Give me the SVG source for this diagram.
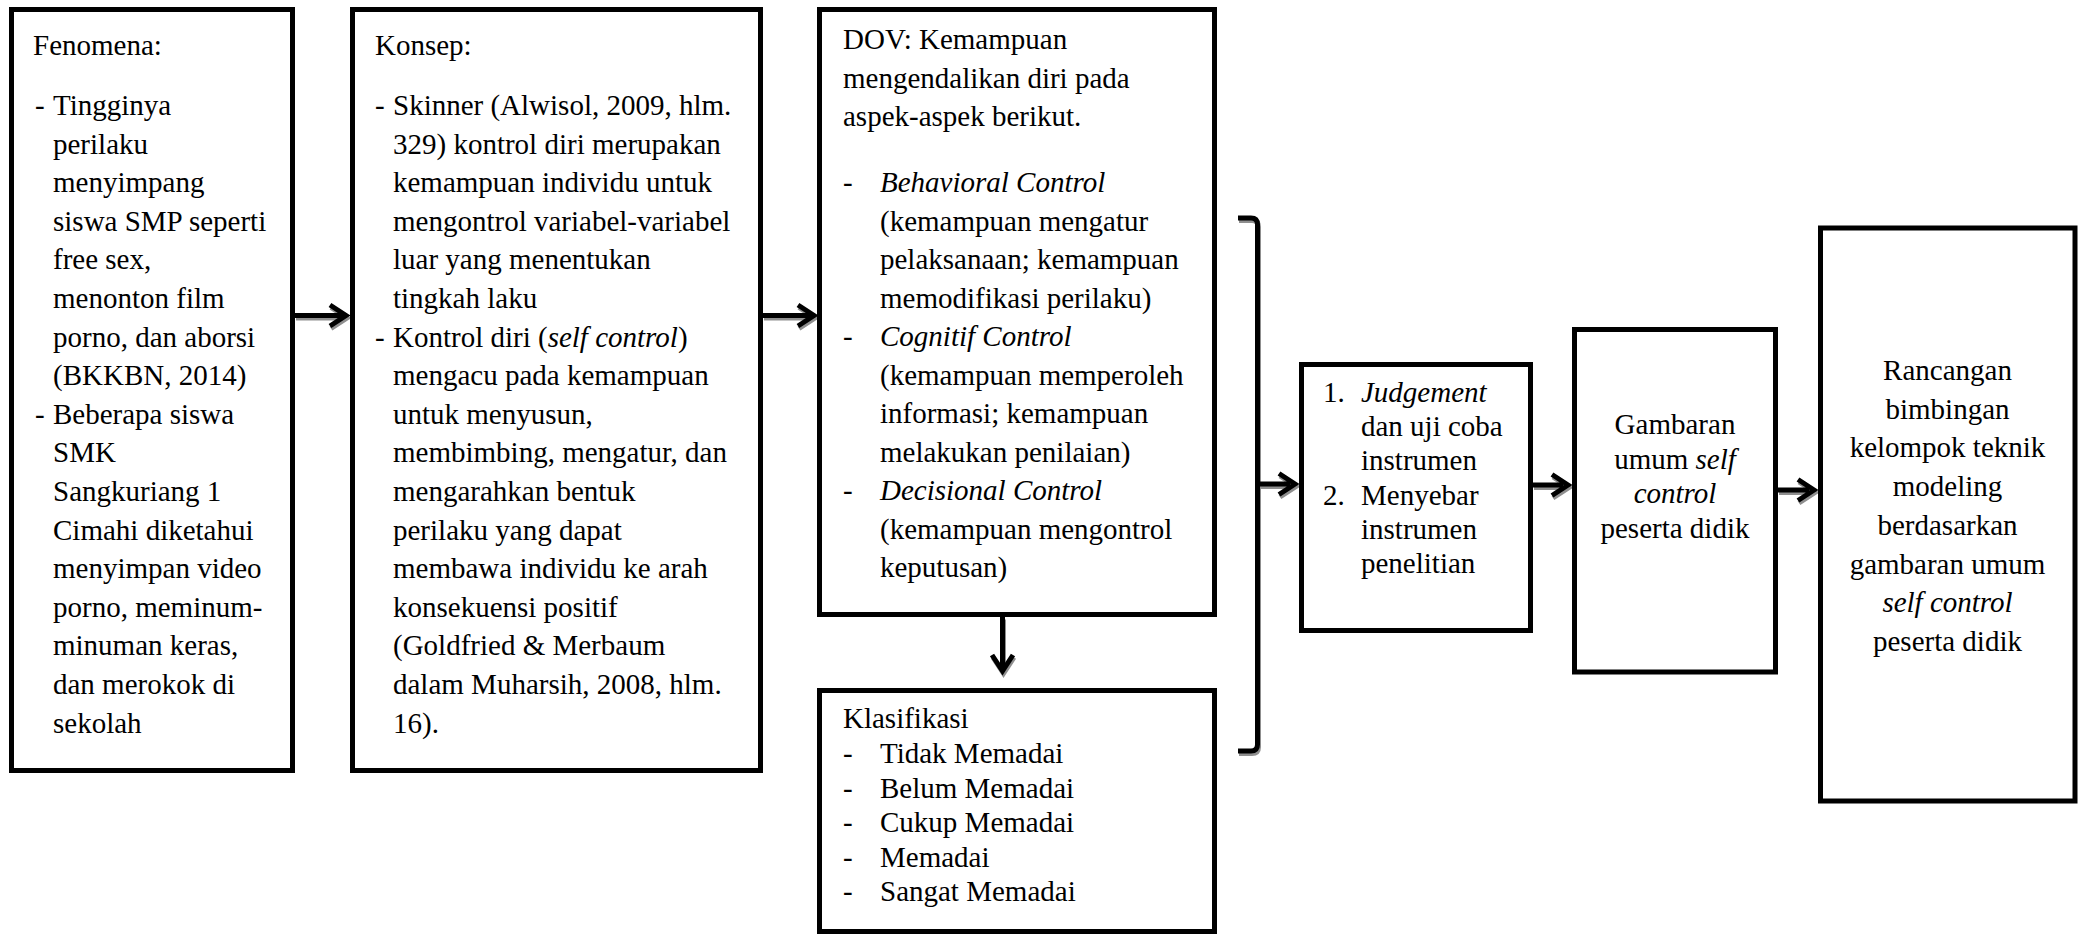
<svg xmlns="http://www.w3.org/2000/svg" width="2083" height="934" viewBox="0 0 2083 934">
<style>
  .box { fill: #fff; stroke: #000; stroke-width: 5; }
  text { font-family: "Liberation Serif", "Times New Roman", serif; font-size: 29px; fill: #000; }
  .c { text-anchor: middle; }
  .i { font-style: italic; }
  .conn { fill: none; stroke: #000; stroke-width: 5; stroke-linejoin: miter; }
  .shadow { fill: none; stroke: #8f8f8f; stroke-width: 5; stroke-linejoin: miter; }
</style>
<defs>
  <g id="arrows-shape">
    <path d="M295,315.5 H345 M330,305 L346,315.5 L330,326"/>
    <path d="M763,315.5 H813 M798,305 L814,315.5 L798,326"/>
    <path d="M1002.5,617 V670 M992,655 L1002.5,671 L1013,655"/>
    <path d="M1238,218 H1251 Q1257.5,218 1257.5,224.5 V744.5 Q1257.5,751 1251,751 H1238"/>
    <path d="M1258,484 H1290 M1279,473.5 L1295,484 L1279,494.5"/>
    <path d="M1533,485 H1563 M1552,474.5 L1568,485 L1552,495.5"/>
    <path d="M1778,490 H1809 M1798,479.5 L1814,490 L1798,500.5"/>
  </g>
</defs>

<g id="connectors">
  <use href="#arrows-shape" class="shadow" transform="translate(1,2.5)"/>
  <use href="#arrows-shape" class="conn"/>
</g>

<g id="fenomena">
  <rect class="box" x="11.5" y="9.5" width="281" height="761"/>
  <text x="33" y="55">Fenomena:</text>
  <text x="35" y="115">-</text>
  <text x="53" y="115">Tingginya</text>
  <text x="53" y="153.6">perilaku</text>
  <text x="53" y="192.2">menyimpang</text>
  <text x="53" y="230.8">siswa SMP seperti</text>
  <text x="53" y="269.4">free sex,</text>
  <text x="53" y="308">menonton film</text>
  <text x="53" y="346.6">porno, dan aborsi</text>
  <text x="53" y="385.2">(BKKBN, 2014)</text>
  <text x="35" y="423.8">-</text>
  <text x="53" y="423.8">Beberapa siswa</text>
  <text x="53" y="462.4">SMK</text>
  <text x="53" y="501">Sangkuriang 1</text>
  <text x="53" y="539.6">Cimahi diketahui</text>
  <text x="53" y="578.2">menyimpan video</text>
  <text x="53" y="616.8">porno, meminum-</text>
  <text x="53" y="655.4">minuman keras,</text>
  <text x="53" y="694">dan merokok di</text>
  <text x="53" y="732.6">sekolah</text>
</g>

<g id="konsep">
  <rect class="box" x="352.5" y="9.5" width="408" height="761"/>
  <text x="375" y="55">Konsep:</text>
  <text x="375" y="115">-</text>
  <text x="393" y="115">Skinner (Alwisol, 2009, hlm.</text>
  <text x="393" y="153.6">329) kontrol diri merupakan</text>
  <text x="393" y="192.2">kemampuan individu untuk</text>
  <text x="393" y="230.8">mengontrol variabel-variabel</text>
  <text x="393" y="269.4">luar yang menentukan</text>
  <text x="393" y="308">tingkah laku</text>
  <text x="375" y="346.6">-</text>
  <text x="393" y="346.6">Kontrol diri (<tspan class="i">self control</tspan>)</text>
  <text x="393" y="385.2">mengacu pada kemampuan</text>
  <text x="393" y="423.8">untuk menyusun,</text>
  <text x="393" y="462.4">membimbing, mengatur, dan</text>
  <text x="393" y="501">mengarahkan bentuk</text>
  <text x="393" y="539.6">perilaku yang dapat</text>
  <text x="393" y="578.2">membawa individu ke arah</text>
  <text x="393" y="616.8">konsekuensi positif</text>
  <text x="393" y="655.4">(Goldfried &amp; Merbaum</text>
  <text x="393" y="694">dalam Muharsih, 2008, hlm.</text>
  <text x="393" y="732.6">16).</text>
</g>

<g id="dov">
  <rect class="box" x="819.5" y="9.5" width="395" height="605"/>
  <text x="843" y="49">DOV: Kemampuan</text>
  <text x="843" y="87.5">mengendalikan diri pada</text>
  <text x="843" y="126">aspek-aspek berikut.</text>
  <text x="843" y="192">-</text>
  <text x="880" y="192" class="i">Behavioral Control</text>
  <text x="880" y="230.5">(kemampuan mengatur</text>
  <text x="880" y="269">pelaksanaan; kemampuan</text>
  <text x="880" y="307.5">memodifikasi perilaku)</text>
  <text x="843" y="346">-</text>
  <text x="880" y="346" class="i">Cognitif Control</text>
  <text x="880" y="384.5">(kemampuan memperoleh</text>
  <text x="880" y="423">informasi; kemampuan</text>
  <text x="880" y="461.5">melakukan penilaian)</text>
  <text x="843" y="500">-</text>
  <text x="880" y="500" class="i">Decisional Control</text>
  <text x="880" y="538.5">(kemampuan mengontrol</text>
  <text x="880" y="577">keputusan)</text>
</g>

<g id="klasifikasi">
  <rect class="box" x="819.5" y="690.5" width="395" height="241"/>
  <text x="843" y="728">Klasifikasi</text>
  <text x="843" y="763">-</text>
  <text x="880" y="763">Tidak Memadai</text>
  <text x="843" y="797.5">-</text>
  <text x="880" y="797.5">Belum Memadai</text>
  <text x="843" y="832">-</text>
  <text x="880" y="832">Cukup Memadai</text>
  <text x="843" y="866.5">-</text>
  <text x="880" y="866.5">Memadai</text>
  <text x="843" y="901">-</text>
  <text x="880" y="901">Sangat Memadai</text>
</g>

<g id="instrumen">
  <rect class="box" x="1301.5" y="364.5" width="229" height="266"/>
  <text x="1323" y="402">1.</text>
  <text x="1361" y="402" class="i">Judgement</text>
  <text x="1361" y="436.2">dan uji coba</text>
  <text x="1361" y="470.4">instrumen</text>
  <text x="1323" y="504.6">2.</text>
  <text x="1361" y="504.6">Menyebar</text>
  <text x="1361" y="538.8">instrumen</text>
  <text x="1361" y="573">penelitian</text>
</g>

<g id="gambaran">
  <rect class="box" x="1574.5" y="329.5" width="201" height="342.5"/>
  <text class="c" x="1675" y="434">Gambaran</text>
  <text class="c" x="1675" y="468.5">umum <tspan class="i">self</tspan></text>
  <text class="c i" x="1675" y="503">control</text>
  <text class="c" x="1675" y="537.5">peserta didik</text>
</g>

<g id="rancangan">
  <rect class="box" x="1820.5" y="228" width="254.5" height="573"/>
  <text class="c" x="1947.5" y="380">Rancangan</text>
  <text class="c" x="1947.5" y="418.7">bimbingan</text>
  <text class="c" x="1947.5" y="457.4">kelompok teknik</text>
  <text class="c" x="1947.5" y="496.1">modeling</text>
  <text class="c" x="1947.5" y="534.8">berdasarkan</text>
  <text class="c" x="1947.5" y="573.5">gambaran umum</text>
  <text class="c i" x="1947.5" y="612.2">self control</text>
  <text class="c" x="1947.5" y="650.9">peserta didik</text>
</g>
</svg>
